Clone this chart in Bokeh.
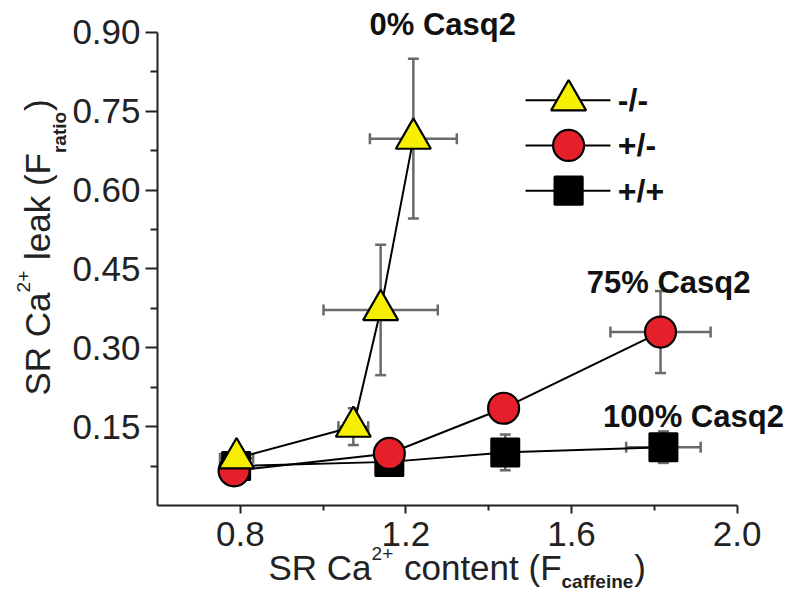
import math
from bokeh.plotting import figure
from bokeh.models import (Range1d, FixedTicker, PrintfTickFormatter, ColumnDataSource,
                          Whisker, TeeHead, Label)
from bokeh.embed import file_html
from bokeh.resources import INLINE

# ---------------- data ----------------
genotypes = ["-/-", "+/-", "+/+"]

tri_x = [0.791, 1.073, 1.139, 1.218]
tri_y = [0.090, 0.150, 0.372, 0.698]
tri_xerr = [0.040, 0.036, 0.138, 0.105]
tri_yerr = [0.015, 0.035, 0.124, 0.152]

circ_x = [0.785, 1.160, 1.436, 1.815]
circ_y = [0.066, 0.099, 0.185, 0.330]
circ_xerr = [0.020, 0.020, 0.020, 0.121]
circ_yerr = [0.010, 0.015, 0.020, 0.078]

sq_x = [0.790, 1.160, 1.440, 1.822]
sq_y = [0.075, 0.083, 0.101, 0.111]
sq_xerr = [0.020, 0.020, 0.020, 0.090]
sq_yerr = [0.010, 0.010, 0.034, 0.030]

annotations = ["0% Casq2", "75% Casq2", "100% Casq2"]
annot_x = [1.112, 1.637, 1.676]
annot_y = [0.915, 0.424, 0.169]

x_ticks = [0.8, 1.2, 1.6, 2.0]
x_minor = [1.0, 1.4, 1.8]
y_ticks = [0.15, 0.30, 0.45, 0.60, 0.75, 0.90]
y_minor = [0.075, 0.225, 0.375, 0.525, 0.675, 0.825]
x_axis_bounds = (0.6, 2.0)
y_axis_bounds = (0.0, 0.9)

# ---------------- style / layout ----------------
YELLOW = "#F6F000"
RED = "#E5202A"
BLACK = "#000000"
ERR = "#6a6a6a"
AX = "#222222"
FONT = "Liberation Sans"

W, H = 786, 594
PX_X0, PX_PER_X = 157.0, 414.0      # pixel of x=0.6 and pixels per x unit
PX_Y0, PX_PER_Y = 505.0, 525.6      # pixel of y=0 and pixels per y unit

x_lo = x_axis_bounds[0] - PX_X0 / PX_PER_X
x_hi = x_axis_bounds[0] + (W - PX_X0) / PX_PER_X
y_hi = (PX_Y0 - 0) / PX_PER_Y
y_lo = -(H - PX_Y0) / PX_PER_Y

# Arial / Liberation Sans advance widths (1/1000 em)
W_REG = {' ': 278, 'S': 667, 'R': 722, 'C': 722, 'a': 556, 'l': 222, 'e': 556, 'k': 500,
         '(': 333, ')': 333, 'F': 611, 'c': 500, 'o': 556, 'n': 556, 't': 278, '2': 556, '+': 584}
W_BOLD = {'r': 389, 'a': 556, 't': 333, 'i': 278, 'o': 611, 'c': 556, 'f': 333, 'e': 556,
          'n': 611, '2': 556, '+': 584}
BASE_CORR = 0.37  # shift (in em) applied so that the "alphabetic" anchor lands on the baseline


def text_w(s, size, bold):
    table = W_BOLD if bold else W_REG
    return sum(table.get(ch, 556) for ch in s) * size / 1000.0


p = figure(width=W, height=H, x_range=Range1d(x_lo, x_hi), y_range=Range1d(y_lo, y_hi),
           output_backend="svg", toolbar_location=None, min_border=0)
p.outline_line_color = None
p.xgrid.visible = False
p.ygrid.visible = False
p.background_fill_color = "white"
p.border_fill_color = "white"

for ax in (p.xaxis[0], p.yaxis[0]):
    ax.axis_line_color = AX
    ax.axis_line_width = 2
    ax.major_tick_line_color = AX
    ax.major_tick_line_width = 2
    ax.minor_tick_line_color = AX
    ax.minor_tick_line_width = 2
    ax.major_tick_in = 0
    ax.minor_tick_in = 0
    ax.major_label_text_font = FONT
    ax.major_label_text_font_size = "35px"
    ax.major_label_text_color = AX

p.xaxis.ticker = FixedTicker(ticks=x_ticks, minor_ticks=x_minor)
p.xaxis.formatter = PrintfTickFormatter(format="%.1f")
p.xaxis.major_tick_out = 8
p.xaxis.minor_tick_out = 5
p.xaxis.major_label_standoff = 8
p.xaxis.bounds = x_axis_bounds
p.xaxis.fixed_location = y_axis_bounds[0]

p.yaxis.ticker = FixedTicker(ticks=y_ticks, minor_ticks=y_minor)
p.yaxis.formatter = PrintfTickFormatter(format="%.2f")
p.yaxis.major_tick_out = 12
p.yaxis.minor_tick_out = 7
p.yaxis.major_label_standoff = 5
p.yaxis.bounds = y_axis_bounds
p.yaxis.fixed_location = x_axis_bounds[0]


# ---------------- error bars ----------------
def add_errors(xs, ys, xe, ye):
    vsrc = ColumnDataSource(dict(base=xs, lower=[y - e for y, e in zip(ys, ye)],
                                 upper=[y + e for y, e in zip(ys, ye)]))
    hsrc = ColumnDataSource(dict(base=ys, lower=[x - e for x, e in zip(xs, xe)],
                                 upper=[x + e for x, e in zip(xs, xe)]))
    for src, dim in ((vsrc, "height"), (hsrc, "width")):
        w = Whisker(source=src, base="base", lower="lower", upper="upper", dimension=dim,
                    line_color=ERR, line_width=2.5,
                    upper_head=TeeHead(size=11, line_color=ERR, line_width=2.5),
                    lower_head=TeeHead(size=11, line_color=ERR, line_width=2.5))
        p.add_layout(w)


add_errors(sq_x, sq_y, sq_xerr, sq_yerr)
add_errors(circ_x, circ_y, circ_xerr, circ_yerr)
add_errors(tri_x, tri_y, tri_xerr, tri_yerr)

# ---------------- connecting lines ----------------
p.line(sq_x, sq_y, line_color=BLACK, line_width=2)
p.line(circ_x, circ_y, line_color=BLACK, line_width=2)
p.line(tri_x, tri_y, line_color=BLACK, line_width=2)

# ---------------- markers ----------------
p.scatter(sq_x, sq_y, marker="square", size=28, fill_color=BLACK, line_color=BLACK, line_width=2)
p.scatter(circ_x, circ_y, marker="circle", size=31, fill_color=RED, line_color=BLACK, line_width=2.2)
p.scatter(tri_x, tri_y, marker="triangle", size=35, fill_color=YELLOW, line_color=BLACK, line_width=2.2)

# ---------------- legend (drawn manually) ----------------
LEG_X0, LEG_X1, LEG_XM, LEG_XT = 1.489, 1.694, 1.593, 1.712
LEG_Y0, LEG_DY = 0.771, 0.086
leg_y = [LEG_Y0 - i * LEG_DY for i in range(len(genotypes))]
leg_markers = [("triangle", 35, YELLOW), ("circle", 31, RED), ("square", 28, BLACK)]
p.segment(x0=[LEG_X0] * 3, x1=[LEG_X1] * 3, y0=leg_y, y1=leg_y, line_color=BLACK, line_width=2)
for (mk, sz, col), yy, name in zip(leg_markers, leg_y, genotypes):
    p.scatter([LEG_XM], [yy], marker=mk, size=sz, fill_color=col, line_color=BLACK, line_width=2.2)
    p.add_layout(Label(x=LEG_XT, y=yy, text=name, text_font=FONT, text_font_size="32px",
                       text_font_style="bold", text_color="#111111", text_align="left",
                       text_baseline="middle"))

# ---------------- annotations ----------------
for t, ax_, ay_ in zip(annotations, annot_x, annot_y):
    p.add_layout(Label(x=ax_, y=ay_, text=t, text_font=FONT, text_font_size="31px",
                       text_font_style="bold", text_color="#111111", text_align="left",
                       text_baseline="middle"))

# ---------------- axis titles built from pieces (super/subscripts) ----------------
# (text, font px, bold, baseline shift px: + = superscript, - = subscript)
x_title = [("SR Ca", 35, False, 0), ("2+", 19, False, 20), (" content (F", 35, False, 0),
           ("caffeine", 19, True, -8), (")", 35, False, 0)]
y_title = [("SR Ca", 35, False, 0), ("2+", 19, False, 20), (" leak (F", 35, False, 0),
           ("ratio", 19, True, -16), (")", 35, False, 0)]


def split_lead(txt, sz, bold):
    """SVG collapses leading spaces: move them into the position advance instead."""
    stripped = txt.lstrip(" ")
    return stripped, text_w(txt[:len(txt) - len(stripped)], sz, bold)


# x title: baseline 75 px below the x axis, starting 111 px right of the y axis
pos = 111.0
for txt, sz, bold, shift in x_title:
    txt, lead = split_lead(txt, sz, bold)
    pos += lead
    p.add_layout(Label(x=x_axis_bounds[0], y=y_axis_bounds[0], x_offset=pos,
                       y_offset=-75 + shift + BASE_CORR * sz,
                       text=txt, text_font=FONT, text_font_size=f"{sz}px",
                       text_font_style="bold" if bold else "normal", text_color=AX,
                       text_align="left", text_baseline="alphabetic"))
    pos += text_w(txt, sz, bold) + (1 if sz < 30 else 0)

# y title: rotated, baseline 107 px left of the y axis, starting 110 px above the x axis
pos = 110.0
for txt, sz, bold, shift in y_title:
    txt, lead = split_lead(txt, sz, bold)
    pos += lead
    p.add_layout(Label(x=x_axis_bounds[0], y=y_axis_bounds[0],
                       x_offset=-107 - shift - BASE_CORR * sz, y_offset=pos,
                       text=txt, text_font=FONT, text_font_size=f"{sz}px",
                       text_font_style="bold" if bold else "normal", text_color=AX,
                       text_align="left", text_baseline="alphabetic", angle=math.pi / 2))
    pos += text_w(txt, sz, bold) + (1 if sz < 30 else 0)

open("out.html", "w").write(file_html(p, INLINE))
